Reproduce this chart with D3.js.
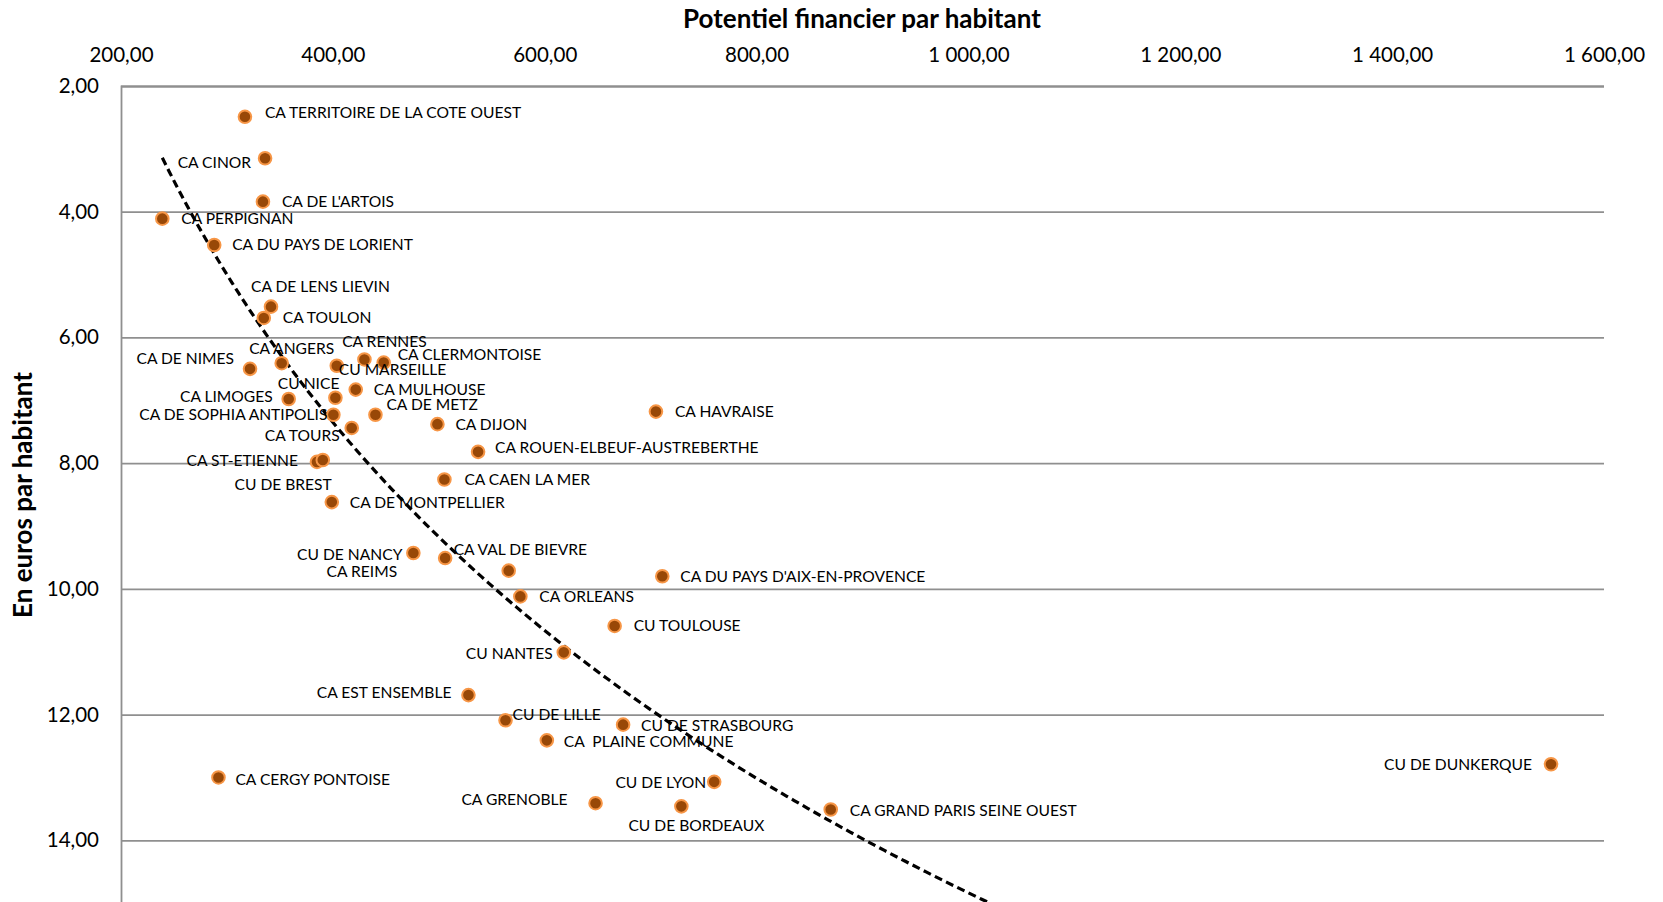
<!DOCTYPE html>
<html>
<head>
<meta charset="utf-8">
<script src="https://cdn.jsdelivr.net/npm/d3@7"></script>
<style>
  html, body { margin: 0; padding: 0; background: #fff; }
  svg { display: block; }
  text { font-family: Lato, "Open Sans", sans-serif; fill: #000; }
</style>
</head>
<body>
<svg id="chart" width="1663" height="902"></svg>
<script>
// ---------- DATA ----------
const names = [
  "CA TERRITOIRE DE LA COTE OUEST", "CA CINOR", "CA DE L'ARTOIS", "CA PERPIGNAN",
  "CA DU PAYS DE LORIENT", "CA DE LENS LIEVIN", "CA TOULON", "CA DE NIMES",
  "CA ANGERS", "CA RENNES", "CA CLERMONTOISE", "CU MARSEILLE", "CU NICE",
  "CA MULHOUSE", "CA LIMOGES", "CA DE SOPHIA ANTIPOLIS", "CA DE METZ", "CA TOURS",
  "CA DIJON", "CA HAVRAISE", "CA ROUEN-ELBEUF-AUSTREBERTHE", "CA ST-ETIENNE",
  "CU DE BREST", "CA CAEN LA MER", "CA DE MONTPELLIER", "CU DE NANCY", "CA REIMS",
  "CA VAL DE BIEVRE", "CA DU PAYS D'AIX-EN-PROVENCE", "CA ORLEANS", "CU TOULOUSE",
  "CU NANTES", "CA EST ENSEMBLE", "CU DE LILLE", "CU DE STRASBOURG",
  "CA  PLAINE COMMUNE", "CA CERGY PONTOISE", "CU DE DUNKERQUE", "CU DE LYON",
  "CA GRENOBLE", "CU DE BORDEAUX", "CA GRAND PARIS SEINE OUEST"
];
const potentiel = [
  317, 336, 334, 239, 288, 341.6, 334.8, 321.8, 351.7, 429.8, 448, 403.7, 402.4,
  421.6, 358.3, 400.5, 440.2, 417.8, 498.7, 705, 537.1, 385, 390.5, 505.3, 399,
  476, 506, 566, 711, 577, 666, 618, 528, 563, 674, 602, 292, 1550, 760, 648, 729, 870
];
const euros = [
  2.49, 3.15, 3.84, 4.11, 4.53, 5.51, 5.69, 6.50, 6.41, 6.35, 6.40, 6.45, 6.96,
  6.83, 6.98, 7.23, 7.23, 7.44, 7.38, 7.18, 7.82, 7.98, 7.95, 8.26, 8.62,
  9.43, 9.51, 9.71, 9.80, 10.12, 10.59, 11.01, 11.69, 12.09, 12.16, 12.41, 13.00,
  12.79, 13.07, 13.41, 13.46, 13.51
];
const xTicks = [200, 400, 600, 800, 1000, 1200, 1400, 1600];
const yTicks = [2, 4, 6, 8, 10, 12, 14];
// logarithmic trendline y = a + b*ln(x), coefficients
const trendIntercept = -41.6;
const trendSlope = 8.17;
const xTitle = "Potentiel financier par habitant";
const yTitle = "En euros par habitant";

// ---------- label placement (style only: anchor, dx, dy in px) ----------
const labelPlacement = [
  ["start", 20, -4], ["end", -14, 4], ["start", 19, 0], ["start", 19, 0],
  ["start", 18, 0], ["start", -20, -20], ["start", 19, 0], ["end", -16, -10],
  ["middle", 10, -15], ["middle", 20, -18], ["start", 14, -8], ["start", 2, 4],
  ["end", 4, -14], ["start", 18, 0], ["end", -16, -2], ["end", -6, 0],
  ["start", 11, -10], ["end", -12, 8], ["start", 18, 0], ["start", 19, 0],
  ["start", 17, -4], ["end", -19, -1], ["end", 9, 25], ["start", 20, 0],
  ["start", 18, 0], ["end", -11, 2], ["end", -48, 13], ["start", -55, -21],
  ["start", 18, 0], ["start", 19, 0], ["start", 19, 0], ["end", -11, 1],
  ["end", -17, -3], ["start", 7, -6], ["start", 18, 1], ["start", 17, 1],
  ["start", 17, 2], ["end", -19, 0], ["end", -8, 1], ["end", -28, -4],
  ["middle", 15, 19], ["start", 19, 1]
];

// ---------- CHART ----------
const svg = d3.select("#chart");
const plot = { left: 121, right: 1604, top: 86, bottom: 966 };

const x = d3.scaleLinear().domain([200, 1600]).range([plot.left, plot.right]);
const y = d3.scaleLinear().domain([2, 16]).range([plot.top, plot.bottom]);

const fr = d3.formatLocale({ decimal: ",", thousands: "\u00a0", grouping: [3], currency: ["", " €"] });
const fmt = fr.format(",.2f");

svg.append("defs").append("clipPath").attr("id", "plotClip")
  .append("rect").attr("x", plot.left).attr("y", plot.top)
  .attr("width", plot.right - plot.left).attr("height", plot.bottom - plot.top);

// gridlines via y axis
const yAxis = d3.axisLeft(y).tickValues(yTicks)
  .tickSize(-(plot.right - plot.left)).tickFormat(fmt).tickPadding(22);
const gy = svg.append("g").attr("transform", `translate(${plot.left},0)`).call(yAxis);
gy.select(".domain").attr("stroke", "#8f8f8f").attr("stroke-width", 1.8);
gy.selectAll(".tick line").attr("stroke", "#8f8f8f").attr("stroke-width", 1.8);
gy.selectAll(".tick text").attr("font-size", 20.5).attr("fill", "#000")
  .style("font-family", "Lato, 'Open Sans', sans-serif");

// x axis at top (labels only)
const xAxis = d3.axisTop(x).tickValues(xTicks).tickSize(0).tickFormat(fmt).tickPadding(0);
const gx = svg.append("g").attr("transform", `translate(0,${plot.top - 24})`).call(xAxis);
gx.select(".domain").remove();
gx.selectAll(".tick text").attr("font-size", 20.5).attr("fill", "#000")
  .style("font-family", "Lato, 'Open Sans', sans-serif");

// titles
svg.append("text").attr("x", 862).attr("y", 28).attr("text-anchor", "middle")
  .attr("font-size", 26).attr("font-weight", "bold").text(xTitle);
svg.append("text").attr("transform", "translate(32,495) rotate(-90)")
  .attr("text-anchor", "middle").attr("font-size", 26).attr("font-weight", "bold").text(yTitle);

// trendline
const xMin = d3.min(potentiel), xMax = d3.max(potentiel);
const trendPts = d3.range(0, 201).map(i => {
  const xv = xMin + (xMax - xMin) * i / 200;
  return [xv, trendIntercept + trendSlope * Math.log(xv)];
});
svg.append("path").datum(trendPts)
  .attr("clip-path", "url(#plotClip)")
  .attr("fill", "none").attr("stroke", "#000").attr("stroke-width", 3.2)
  .attr("stroke-dasharray", "8,4.5")
  .attr("d", d3.line().x(d => x(d[0])).y(d => y(d[1])));

// points
const data = names.map((n, i) => ({ name: n, px: potentiel[i], py: euros[i], lp: labelPlacement[i] }));
svg.append("g").selectAll("circle").data(data).join("circle")
  .attr("cx", d => x(d.px)).attr("cy", d => y(d.py)).attr("r", 6.3)
  .attr("fill", "#984807").attr("stroke", "#f79646").attr("stroke-width", 2);

// labels
svg.append("g").selectAll("text").data(data).join("text")
  .attr("x", d => x(d.px) + d.lp[1]).attr("y", d => y(d.py) + d.lp[2])
  .attr("dy", "0.35em").attr("text-anchor", d => d.lp[0])
  .attr("font-size", 15.6).style("white-space", "pre")
  .text(d => d.name);
</script>
</body>
</html>
